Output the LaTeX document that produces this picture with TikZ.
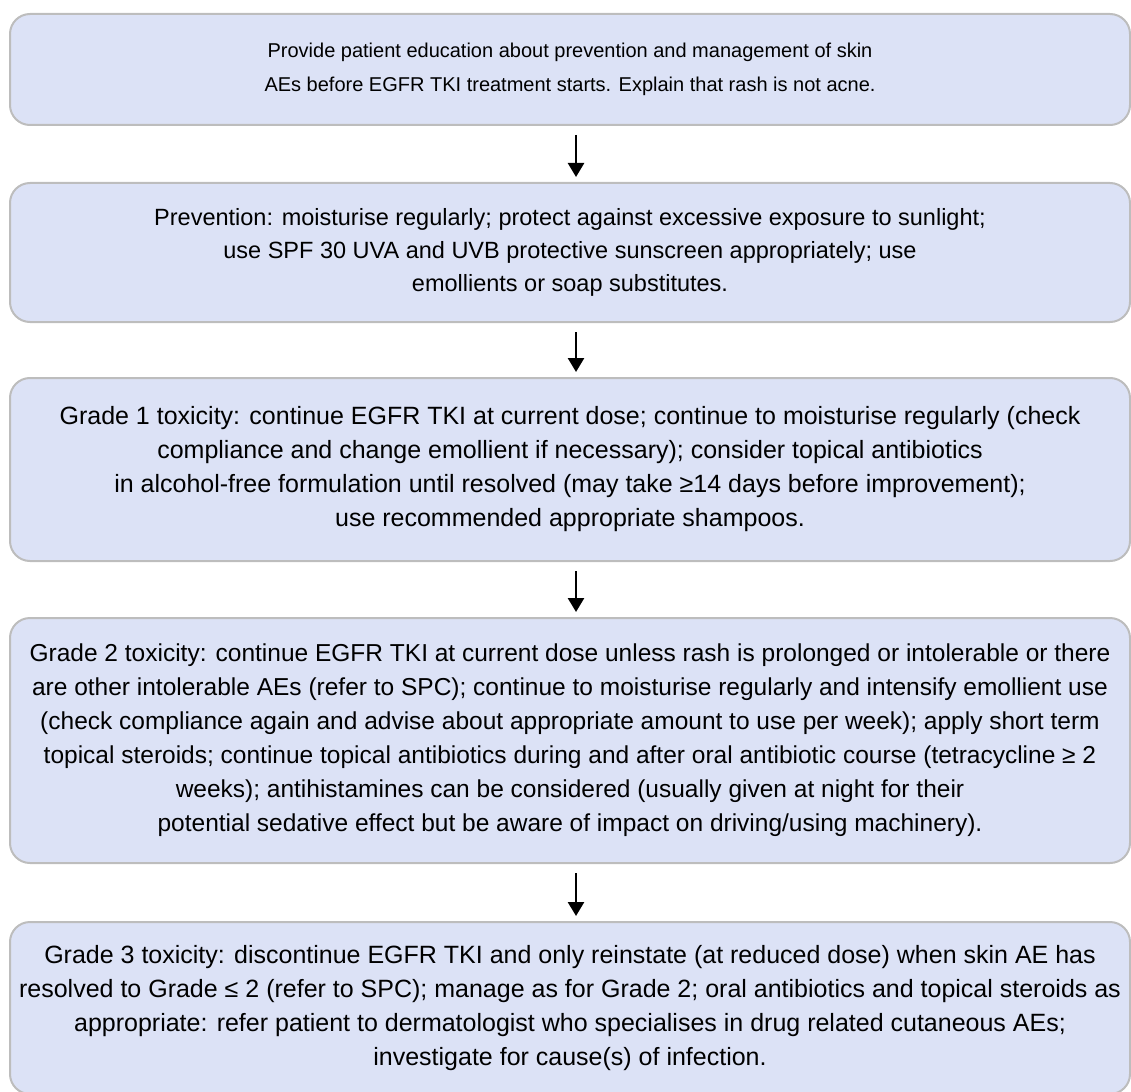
\documentclass[tikz,border=0pt]{standalone}
\usepackage{fontspec}
\setmainfont{Liberation Sans}
\usetikzlibrary{arrows.meta}
\definecolor{boxfill}{HTML}{DCE2F6}
\definecolor{boxline}{HTML}{BDBDBD}

\begin{document}
\begin{tikzpicture}[x=1pt,y=-1pt,font=\fontsize{24.5}{34}\selectfont,
    box/.style={draw=boxline,line width=2pt,fill=boxfill,rounded corners=20pt,
      align=center,minimum width=1120pt,inner sep=0pt},
    flow/.style={line width=2.6pt,-{Triangle[width=16pt,length=14pt]},
      shorten <=9pt,shorten >=5pt}]
        \useasboundingbox (0,0) rectangle (1131,1091);
        \node[box,minimum height=111pt,font=\fontsize{20}{34}\selectfont] (educ) at (570,69.5) {Provide patient education about prevention and management of skin\\
          AEs before EGFR TKI treatment starts. Explain that rash is not acne.};
        \node[box,minimum height=139pt,font=\fontsize{23.5}{33}\selectfont] (prev) at (570,252.5) {Prevention: moisturise regularly; protect against excessive exposure to sunlight;\\
          use SPF 30 UVA and UVB protective sunscreen appropriately; use\\
          emollients or soap substitutes.};
        \node[box,minimum height=183pt,font=\fontsize{25}{34}\selectfont] (grd1) at (570,469.5) {Grade 1 toxicity: continue EGFR TKI at current dose; continue to moisturise regularly (check\\
          compliance and change emollient if necessary); consider topical antibiotics\\
          in alcohol-free formulation until resolved (may take ≥14 days before improvement);\\
          use recommended appropriate shampoos.};
        \node[box,minimum height=245pt] (grd2) at (570,740.5) {Grade 2 toxicity: continue EGFR TKI at current dose unless rash is prolonged or intolerable or there\\
          are other intolerable AEs (refer to SPC); continue to moisturise regularly and intensify emollient use\\
          (check compliance again and advise about appropriate amount to use per week); apply short term\\
          topical steroids; continue topical antibiotics during and after oral antibiotic course (tetracycline ≥ 2\\
          weeks); antihistamines can be considered (usually given at night for their\\
          potential sedative effect but be aware of impact on driving/using machinery).};
        \node[box,minimum height=172pt,font=\fontsize{25}{34}\selectfont] (grd3) at (570,1008) {Grade 3 toxicity: discontinue EGFR TKI and only reinstate (at reduced dose) when skin AE has\\
          resolved to Grade ≤ 2 (refer to SPC); manage as for Grade 2; oral antibiotics and topical steroids as\\
          appropriate: refer patient to dermatologist who specialises in drug related cutaneous AEs;\\
          investigate for cause(s) of infection.};
        \draw[flow] ([xshift=6pt]educ.south) -- ([xshift=6pt]prev.north);
        \draw[flow] ([xshift=6pt]prev.south) -- ([xshift=6pt]grd1.north);
        \draw[flow] ([xshift=6pt]grd1.south) -- ([xshift=6pt]grd2.north);
        \draw[flow] ([xshift=6pt]grd2.south) -- ([xshift=6pt]grd3.north);
    \end{tikzpicture}
\end{document}
